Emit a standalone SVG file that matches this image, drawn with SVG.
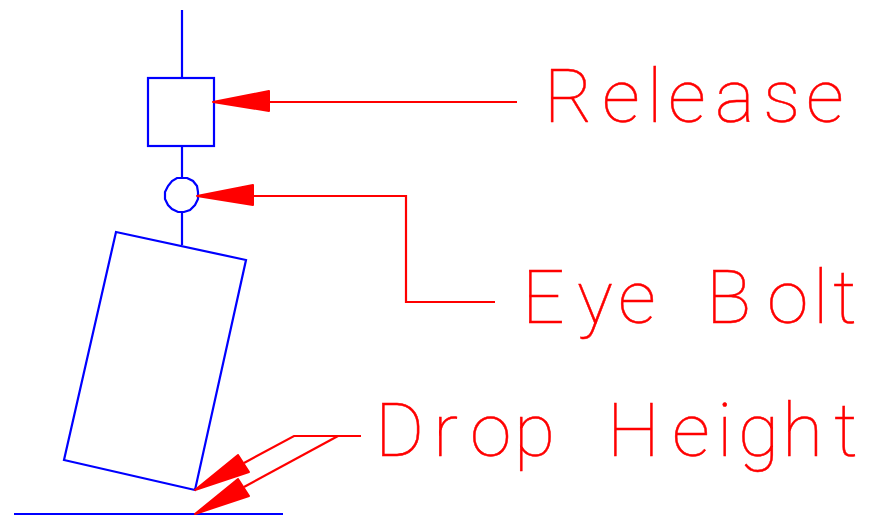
<svg xmlns="http://www.w3.org/2000/svg" width="873" height="517" viewBox="0 0 873 517">
<style>
.b{fill:none;stroke:#0000ff;stroke-width:2.2}
.r{fill:none;stroke:#ff0000;stroke-width:2.2}
.h{fill:#ff0000;stroke:#ff0000;stroke-width:2;stroke-linejoin:round}
.t{font-family:Roboto,"Liberation Sans",sans-serif;font-weight:100;font-size:75px;fill:#ff0000;stroke:#ff0000;stroke-width:.5}
</style>
<rect width="873" height="517" fill="#ffffff"/>
<g id="release-block"><path class="b" d="M182 10V78"/><rect class="b" x="148" y="78" width="66" height="68"/></g>
<g id="eye-bolt"><path class="b" d="M182 146V178"/><polygon class="b" points="187,178 193,181 197,186 198,192 198,199 195,205 190,210 184,212 178,212 172,209 168,205 165,199 165,192 168,186 172,181 177,178"/><path class="b" d="M182 212V245"/></g>
<g id="tilted-box"><polygon class="b" points="116,232 246,260 195,490 64,460"/></g>
<g id="ground"><path class="b" d="M14 514H283"/></g>
<g id="connectors">
<path class="r" d="M517 102H269"/><polygon class="h" points="213,102 269,91 269,111"/>
<path class="r" d="M495 302H406V196H253"/><polygon class="h" points="197,196 253,185 253,205"/>
<path class="r" d="M361 436H294L244 463"/><polygon class="h" points="195,490 238,455 249,472"/>
<path class="r" d="M338 436L244 487"/><polygon class="h" points="195,514 238,479 249,496"/>
</g>
<g id="labels">
<text class="t" y="122" x="544 602 647 668 715 763 806">Release</text>
<text class="t" y="323" x="522 577 618 662 706 767 813 833">Eye Bolt</text>
<text class="t" y="456" x="375 433 470 514 562 607 672 717 738 782 834">Drop Height</text>
</g>
</svg>
